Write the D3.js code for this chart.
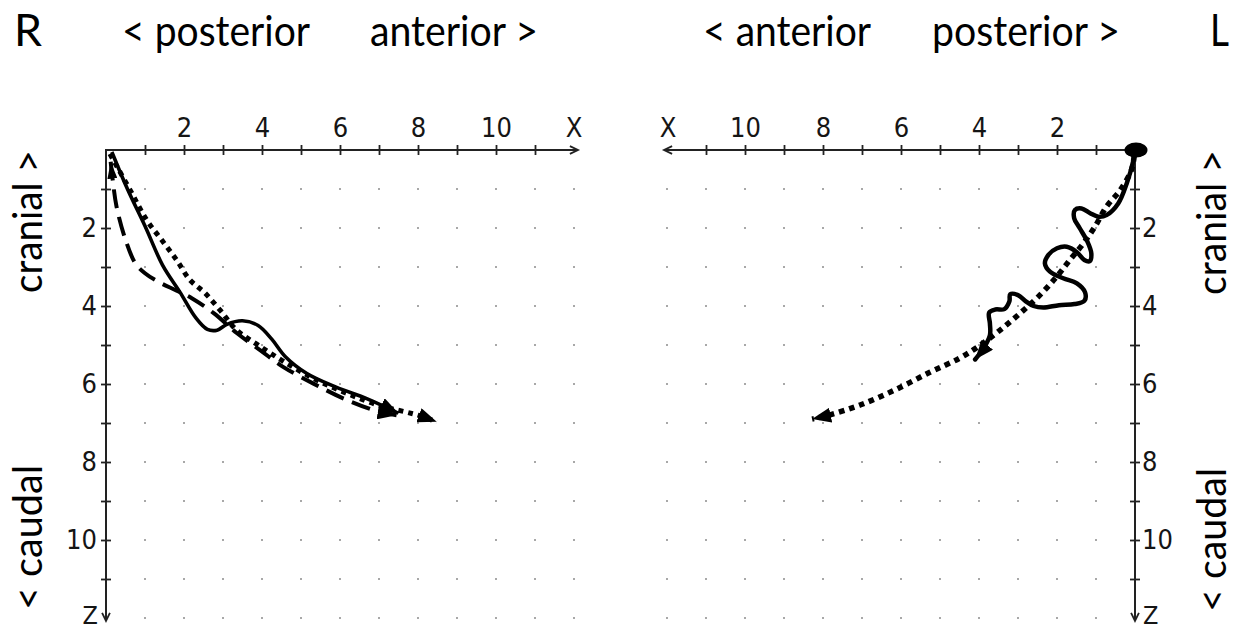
<!DOCTYPE html>
<html><head><meta charset="utf-8">
<script src="https://cdn.jsdelivr.net/npm/d3@7"></script>
<style>
html,body{margin:0;padding:0;background:#fff;}
svg{display:block;}
</style></head><body>
<svg id="c" width="1236" height="632"></svg>
<script>
// ---------- data ----------
const gridSteps = [1,2,3,4,5,6,7,8,9,10,11,12];
const axisTicks = [1,2,3,4,5,6,7,8,9,10,11];
const labeledTicks = [2,4,6,8,10];
const axisEndLabels = ["X","Z"];
const headerLeft = ["R","< posterior","anterior >"];
const headerRight = ["< anterior","posterior >","L"];
const sideLabels = ["cranial >","< caudal"];

// right side of body (R panel): [x, z]
const leftSolid = [[0.15,0.05],[0.55,1.0],[1.0,1.95],[1.45,2.95],[1.9,3.65],[2.3,4.3],[2.6,4.6],[2.85,4.62],[3.1,4.47],[3.5,4.38],[3.9,4.5],[4.25,4.85],[4.6,5.3],[5.15,5.73],[5.9,6.08],[6.7,6.38],[7.5,6.75]];
const leftDashed = [[0.12,0.3],[0.17,0.75],[0.27,1.45],[0.5,2.3],[0.75,2.9],[1.0,3.16],[1.38,3.4],[1.8,3.6],[2.2,3.8],[2.77,4.19],[3.36,4.70],[3.95,5.13],[4.54,5.56],[5.32,5.99],[6.11,6.38],[6.9,6.68],[7.45,6.8]];
const leftDotted = [[0.1,0.1],[0.62,1.03],[1.04,1.79],[1.43,2.31],[1.81,2.82],[2.15,3.33],[2.54,3.67],[2.92,4.10],[3.35,4.62],[3.9,5.0],[4.6,5.45],[5.4,5.9],[6.2,6.25],[7.0,6.55],[7.7,6.72],[8.0,6.8],[8.48,6.97]];
// left side of body (L panel): [x, z]
const rightSolid = [[0,0],[0.04,0.26],[0.21,0.85],[0.43,1.37],[0.73,1.67],[0.94,1.71],[1.15,1.62],[1.37,1.50],[1.54,1.54],[1.56,1.75],[1.42,2.0],[1.22,2.35],[1.12,2.65],[1.16,2.85],[1.30,2.82],[1.49,2.62],[1.75,2.48],[2.0,2.52],[2.22,2.69],[2.31,2.91],[2.18,3.12],[1.84,3.29],[1.49,3.42],[1.28,3.65],[1.30,3.87],[1.55,3.95],[1.95,3.98],[2.35,4.04],[2.6,4.0],[2.8,3.88],[3.0,3.72],[3.2,3.70],[3.22,3.88],[3.35,4.08],[3.58,4.09],[3.74,4.17],[3.72,4.45],[3.72,4.75],[3.88,5.08],[4.10,5.37]];
const rightDotted = [[0.02,0.15],[0.09,0.51],[0.38,1.03],[0.73,1.45],[1.03,1.97],[1.32,2.39],[1.67,2.82],[2.01,3.25],[2.44,3.72],[2.95,4.19],[3.5,4.65],[4.02,5.04],[4.5,5.34],[5.26,5.7],[6.15,6.15],[7.05,6.54],[7.82,6.79],[8.28,6.90]];

// ---------- setup ----------
const svg = d3.select("#c");
const xL = d3.scaleLinear().domain([0,12]).range([106,574]);
const xR = d3.scaleLinear().domain([0,12]).range([1135,667]);
const zS = d3.scaleLinear().domain([0,12]).range([150,618]);

const defs = svg.append("defs");
function mk(id, len, half){
  defs.append("marker").attr("id",id).attr("markerUnits","userSpaceOnUse")
    .attr("viewBox",`0 ${-half} ${len} ${2*half}`).attr("refX",len).attr("refY",0)
    .attr("markerWidth",len).attr("markerHeight",2*half).attr("orient","auto-start-reverse")
    .append("path").attr("d",`M0,${-half}L${len},0L0,${half}Z`).attr("fill","#000");
}
mk("arr",19,7.5);
mk("arrS",17,5);

const tickFont = '"DejaVu Sans Condensed","DejaVu Sans",sans-serif';
const labFont = 'Lato,"Open Sans",sans-serif';

// grid dots
[xL, xR].forEach(xs=>{
  const g = svg.append("g");
  gridSteps.forEach(i=>gridSteps.forEach(j=>{
    g.append("rect").attr("x",xs(i)-1).attr("y",zS(j)-1).attr("width",2).attr("height",2).attr("fill","#a8a8a8");
  }));
});

function styleAxis(g, vertical){
  g.select(".domain").remove();
  g.selectAll(".tick line").attr("stroke","#222").attr("stroke-width",1.8);
  if(vertical) g.selectAll(".tick line").attr("x1", g.attr("data-side")==="left"? 5 : -5);
  else g.selectAll(".tick line").attr("y1",5);
  g.selectAll(".tick text").attr("font-family",tickFont).attr("font-stretch","condensed")
    .attr("font-size",27).attr("fill","#151515");
}
const fmt = d => labeledTicks.includes(d) ? d : "";

// Left panel axes
const gxl = svg.append("g").attr("transform",`translate(0,${zS(0)})`)
  .call(d3.axisTop(xL).tickValues(axisTicks).tickSize(5).tickPadding(8).tickFormat(fmt));
styleAxis(gxl,false);
const gzl = svg.append("g").attr("data-side","left").attr("transform",`translate(${xL(0)},0)`)
  .call(d3.axisLeft(zS).tickValues(axisTicks).tickSize(5).tickPadding(4).tickFormat(fmt));
styleAxis(gzl,true);
// Right panel axes
const gxr = svg.append("g").attr("transform",`translate(0,${zS(0)})`)
  .call(d3.axisTop(xR).tickValues(axisTicks).tickSize(5).tickPadding(8).tickFormat(fmt));
styleAxis(gxr,false);
const gzr = svg.append("g").attr("data-side","right").attr("transform",`translate(${xR(0)},0)`)
  .call(d3.axisRight(zS).tickValues(axisTicks).tickSize(5).tickPadding(2).tickFormat(fmt));
styleAxis(gzr,true);

// axis lines with open arrowheads
function axisLine(x1,y1,x2,y2){
  svg.append("line").attr("x1",x1).attr("y1",y1).attr("x2",x2).attr("y2",y2)
    .attr("stroke","#222").attr("stroke-width",2);
  const a = Math.atan2(y2-y1,x2-x1), L=9, w=0.45;
  const p = [[x2-L*Math.cos(a-w), y2-L*Math.sin(a-w)],[x2,y2],[x2-L*Math.cos(a+w), y2-L*Math.sin(a+w)]];
  svg.append("path").attr("d",d3.line()(p)).attr("fill","none").attr("stroke","#222").attr("stroke-width",1.8);
}
axisLine(xL(0),zS(0),xL(12)+4,zS(0));
axisLine(xL(0),zS(0)-1,xL(0),zS(12)+3);
axisLine(xR(0),zS(0),xR(12)-3,zS(0));
axisLine(xR(0),zS(0)-1,xR(0),zS(12)+3);

// axis end labels
function tlabel(t,x,y,anchor,fs){
  svg.append("text").text(t).attr("x",x).attr("y",y).attr("text-anchor",anchor)
    .attr("font-family",tickFont).attr("font-stretch","condensed").attr("font-size",fs||27).attr("fill","#151515");
}
tlabel(axisEndLabels[0], xL(12), zS(0)-13, "middle");
tlabel(axisEndLabels[1], xL(0)-8, zS(12)+6, "end", 25);
tlabel(axisEndLabels[0], xR(12)+1, zS(0)-13, "middle");
tlabel(axisEndLabels[1], xR(0)+8, zS(12)+6, "start", 25);

// curves
function curve(data, xs, opts){
  const line = d3.line().x(d=>xs(d[0])).y(d=>zS(d[1])).curve(d3.curveCatmullRom.alpha(0.5));
  const p = svg.append("path").attr("d",line(data)).attr("fill","none").attr("stroke","#000")
    .attr("stroke-width",opts.w).attr("stroke-linejoin","round");
  if(opts.dash) p.attr("stroke-dasharray",opts.dash);
  if(opts.cap) p.attr("stroke-linecap",opts.cap);
  if(opts.end) p.attr("marker-end","url(#arr)");
  if(opts.start) p.attr("marker-start","url(#arrS)");
  return p;
}
curve(leftDashed, xL, {w:4, dash:"19 9", end:true, start:true});
curve(leftDotted, xL, {w:5, dash:"5 5", end:true});
curve(leftSolid, xL, {w:3.6, end:true});
curve(rightDotted, xR, {w:5.5, dash:"5.5 5", end:true});
curve(rightSolid, xR, {w:4.5, end:true, cap:"round"});
svg.append("ellipse").attr("cx",xR(0)+1).attr("cy",zS(0)).attr("rx",11.5).attr("ry",7.5).attr("fill","#000");

// header labels
function hlabel(t,x0,x1,y,fs){
  svg.append("text").text(t).attr("x",x0).attr("y",y).attr("textLength",x1-x0).attr("lengthAdjust","spacingAndGlyphs")
    .attr("font-family",labFont).attr("font-size",fs||42).attr("fill","#000");
}
hlabel(headerLeft[0],14,42,46,45);
hlabel(headerLeft[1],122,310,46);
hlabel(headerLeft[2],370,538,46);
hlabel(headerRight[0],703,871,46);
hlabel(headerRight[1],932,1120,46);
hlabel(headerRight[2],1210,1229,46,45);

// rotated side labels
function vlabel(t,x,yStart,len){
  svg.append("text").text(t).attr("transform",`translate(${x},${yStart}) rotate(-90)`)
    .attr("textLength",len).attr("lengthAdjust","spacingAndGlyphs")
    .attr("font-family",labFont).attr("font-size",41).attr("fill","#000");
}
vlabel(sideLabels[0],42,293,143);
vlabel(sideLabels[1],42,610,145);
vlabel(sideLabels[0],1226,295,145);
vlabel(sideLabels[1],1226,612,144);
</script>
</body></html>
